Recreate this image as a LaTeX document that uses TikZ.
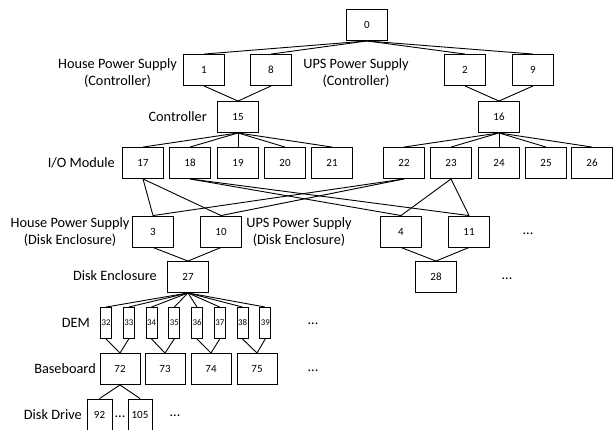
\documentclass[tikz,border=0pt]{standalone}
\usepackage{fontspec}
\setmainfont{Carlito}
\begin{document}
\begin{tikzpicture}[x=1pt,y=-1pt,
  box/.style={draw,line width=0.9pt,minimum width=41pt,minimum height=31pt,inner sep=0pt,font=\fontsize{11}{13}\selectfont},
  dembox/.style={box,minimum width=11pt,font=\fontsize{8.8}{10}\selectfont},
  basebox/.style={box,minimum width=40pt},
  drivebox/.style={box,minimum width=24pt},
  lbl/.style={inner sep=0pt,font=\fontsize{14.3}{17.5}\selectfont,align=center},
  dots/.style={inner sep=0pt,font=\fontsize{14.3}{17.5}\selectfont,anchor=base},
  conn/.style={line width=0.9pt}
]
\useasboundingbox (0,0) rectangle (613,429);
\clip (0,0) rectangle (613,429);
% level 0
\node[box] (n0) at (367,25) {0};
% power supplies (controller)
\node[box] (n1) at (204,70) {1};
\node[box] (n8) at (271,70) {8};
\node[box] (n2) at (465,70) {2};
\node[box] (n9) at (533,70) {9};
% controllers
\node[box] (n15) at (238,117) {15};
\node[box] (n16) at (499,117) {16};
% I/O modules
\node[box] (n17) at (143,163) {17};
\node[box] (n18) at (190,163) {18};
\node[box] (n19) at (238,163) {19};
\node[box] (n20) at (285,163) {20};
\node[box] (n21) at (332,163) {21};
\node[box] (n22) at (404,163) {22};
\node[box] (n23) at (451,163) {23};
\node[box] (n24) at (499,163) {24};
\node[box] (n25) at (546,163) {25};
\node[box] (n26) at (592,163) {26};
% power supplies (disk enclosure)
\node[box] (n3) at (153,231.5) {3};
\node[box] (n10) at (221,231.5) {10};
\node[box] (n4) at (401,231.5) {4};
\node[box] (n11) at (469,231.5) {11};
% disk enclosures
\node[box] (n27) at (188,277) {27};
\node[box] (n28) at (436,277) {28};
% DEMs
\node[dembox] (n32) at (106,323) {32};
\node[dembox] (n33) at (128.75,323) {33};
\node[dembox] (n34) at (151.5,323) {34};
\node[dembox] (n35) at (174.25,323) {35};
\node[dembox] (n36) at (197,323) {36};
\node[dembox] (n37) at (219.75,323) {37};
\node[dembox] (n38) at (242.5,323) {38};
\node[dembox] (n39) at (265.25,323) {39};
% baseboards
\node[basebox] (n72) at (120,369) {72};
\node[basebox] (n73) at (165,369) {73};
\node[basebox] (n74) at (211,369) {74};
\node[basebox] (n75) at (257,369) {75};
% disk drives
\node[drivebox,minimum width=25pt] (n92) at (99.5,414.5) {92};
\node[drivebox] (n105) at (140,414.5) {105};

% labels
\node[lbl] (lhpsc) at (117.5,73) {House Power Supply\\(Controller)};
\node[lbl] (lupsc) at (356,73) {UPS Power Supply\\(Controller)};
\node[lbl,anchor=east] (lctrl) at (207,117) {Controller};
\node[lbl,anchor=east] (lio) at (115,163) {I/O Module};
\node[lbl] (lhpsd) at (70,232) {House Power Supply\\(Disk Enclosure)};
\node[lbl] (lupsd) at (299,232) {UPS Power Supply\\(Disk Enclosure)};
\node[lbl,anchor=east] (lde) at (157,276) {Disk Enclosure};
\node[lbl,anchor=east] (ldem) at (90,323) {DEM};
\node[lbl,anchor=east] (lbb) at (96,369) {Baseboard};
\node[lbl,anchor=east] (ldd) at (82,415) {Disk Drive};
% ellipses
\node[dots] (d1) at (528,234) {...};
\node[dots] (d2) at (507,279) {...};
\node[dots] (d3) at (313,324) {...};
\node[dots] (d4) at (313,371) {...};
\node[dots] (d5) at (120,417) {...};
\node[dots] (d6) at (175,416) {...};

% connectors
\foreach \c in {n1,n8,n2,n9} \draw[conn] (n0.south) -- (\c.north);
\foreach \c in {n1,n8} \draw[conn] (\c.south) -- (n15.north);
\foreach \c in {n2,n9} \draw[conn] (\c.south) -- (n16.north);
\foreach \c in {n17,n18,n19,n20,n21} \draw[conn] (n15.south) -- (\c.north);
\foreach \c in {n22,n23,n24,n25,n26} \draw[conn] (n16.south) -- (\c.north);
\foreach \c in {n3,n10} \draw[conn] (n17.south) -- (\c.north);
\foreach \c in {n4,n11} \draw[conn] (n18.south) -- (\c.north);
\foreach \c in {n3,n10} \draw[conn] (n22.south) -- (\c.north);
\foreach \c in {n4,n11} \draw[conn] (n23.south) -- (\c.north);
\foreach \c in {n3,n10} \draw[conn] (\c.south) -- (n27.north);
\foreach \c in {n4,n11} \draw[conn] (\c.south) -- (n28.north);
\foreach \c in {n32,n33,n34,n35,n36,n37,n38,n39} \draw[conn] (n27.south) -- (\c.north);
\foreach \c in {n32,n33} \draw[conn] (\c.south) -- (n72.north);
\foreach \c in {n34,n35} \draw[conn] (\c.south) -- (n73.north);
\foreach \c in {n36,n37} \draw[conn] (\c.south) -- (n74.north);
\foreach \c in {n38,n39} \draw[conn] (\c.south) -- (n75.north);
\foreach \c in {n92,n105} \draw[conn] (n72.south) -- (\c.north);
\end{tikzpicture}
\end{document}
